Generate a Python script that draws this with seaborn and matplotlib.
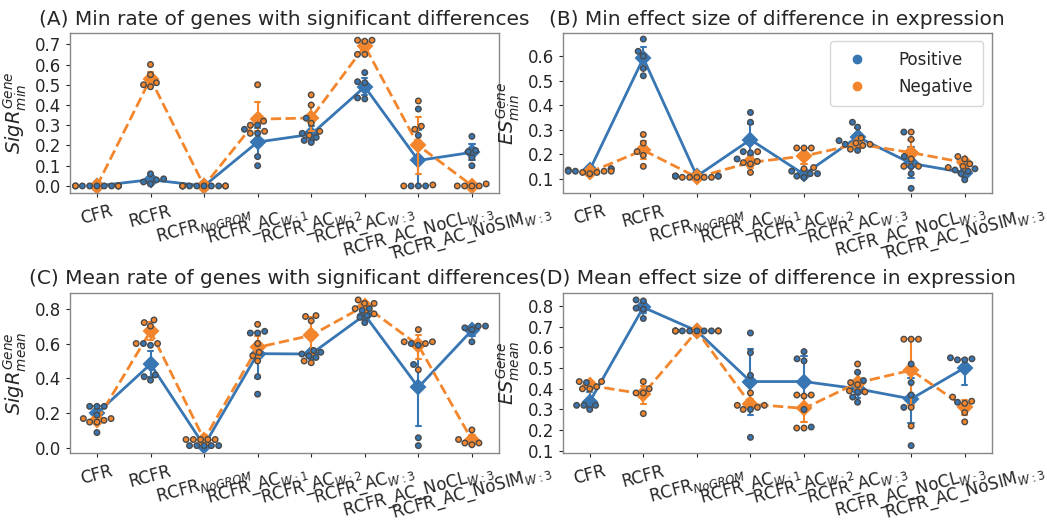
import numpy as np
import pandas as pd
import matplotlib
matplotlib.use("Agg")
import matplotlib.pyplot as plt
import seaborn as sns
from matplotlib.lines import Line2D
from matplotlib.ticker import MultipleLocator

methods = ["CFR", "RCFR", "RCFR$_{NoGROM}$", "RCFR_AC$_{W:1}$", "RCFR_AC$_{W:2}$",
           "RCFR_AC$_{W:3}$", "RCFR_AC_NoCL$_{W:3}$", "RCFR_AC_NoSIM$_{W:3}$"]

# five runs per method and per sign
min_sig_pos = [[0, 0, 0, 0, 0], [0.06, 0.035, 0.03, 0.02, 0.01], [0, 0, 0, 0, 0],
               [0.10, 0.145, 0.26, 0.28, 0.30], [0.215, 0.225, 0.24, 0.26, 0.335],
               [0.43, 0.435, 0.51, 0.515, 0.56], [0, 0, 0, 0.25, 0.38],
               [0.10, 0.14, 0.17, 0.175, 0.245]]
min_sig_neg = [[0, 0, 0, 0, 0], [0.60, 0.55, 0.51, 0.50, 0.49], [0, 0, 0, 0, 0],
               [0.50, 0.32, 0.30, 0.27, 0.26], [0.45, 0.40, 0.31, 0.27, 0.25],
               [0.72, 0.72, 0.715, 0.65, 0.65], [0.42, 0.295, 0.28, 0.0, 0.005],
               [0, 0, 0, 0, 0.01]]

min_es_pos = [[0.14, 0.135, 0.13, 0.13, 0.14], [0.67, 0.62, 0.60, 0.55, 0.52],
              [0.11, 0.11, 0.11, 0.11, 0.11], [0.37, 0.33, 0.21, 0.205, 0.18],
              [0.13, 0.12, 0.11, 0.105, 0.12], [0.33, 0.31, 0.255, 0.24, 0.215],
              [0.29, 0.19, 0.15, 0.12, 0.06], [0.14, 0.135, 0.13, 0.12, 0.095]]
min_es_neg = [[0.13, 0.125, 0.125, 0.12, 0.13], [0.28, 0.245, 0.21, 0.195, 0.15],
              [0.105, 0.105, 0.105, 0.105, 0.105], [0.21, 0.17, 0.165, 0.16, 0.125],
              [0.225, 0.225, 0.225, 0.145, 0.14], [0.265, 0.245, 0.24, 0.235, 0.22],
              [0.29, 0.26, 0.18, 0.15, 0.15], [0.19, 0.18, 0.16, 0.15, 0.145]]

mean_sig_pos = [[0.24, 0.24, 0.24, 0.19, 0.09], [0.60, 0.59, 0.42, 0.41, 0.39],
                [0.015, 0.015, 0.015, 0.015, 0.015], [0.67, 0.66, 0.66, 0.41, 0.31],
                [0.56, 0.55, 0.54, 0.53, 0.52], [0.80, 0.79, 0.76, 0.75, 0.72],
                [0.60, 0.59, 0.48, 0.06, 0.015], [0.70, 0.70, 0.69, 0.68, 0.61]]
mean_sig_neg = [[0.17, 0.17, 0.16, 0.15, 0.15], [0.735, 0.72, 0.70, 0.60, 0.60],
                [0.05, 0.05, 0.05, 0.05, 0.05], [0.71, 0.60, 0.55, 0.53, 0.50],
                [0.76, 0.755, 0.73, 0.50, 0.49], [0.85, 0.83, 0.83, 0.80, 0.77],
                [0.68, 0.61, 0.61, 0.60, 0.45], [0.105, 0.05, 0.03, 0.03, 0.02]]

mean_es_pos = [[0.43, 0.32, 0.32, 0.32, 0.30], [0.83, 0.825, 0.79, 0.785, 0.74],
               [0.68, 0.68, 0.68, 0.68, 0.68], [0.67, 0.575, 0.465, 0.30, 0.165],
               [0.58, 0.545, 0.535, 0.30, 0.215], [0.48, 0.44, 0.385, 0.36, 0.335],
               [0.52, 0.43, 0.37, 0.31, 0.125], [0.55, 0.545, 0.54, 0.54, 0.335]]
mean_es_neg = [[0.435, 0.435, 0.41, 0.40, 0.40], [0.435, 0.40, 0.38, 0.38, 0.28],
               [0.68, 0.68, 0.68, 0.68, 0.68], [0.38, 0.32, 0.32, 0.31, 0.30],
               [0.37, 0.37, 0.365, 0.21, 0.21], [0.52, 0.43, 0.42, 0.39, 0.385],
               [0.64, 0.64, 0.64, 0.31, 0.22], [0.36, 0.34, 0.33, 0.285, 0.24]]

titles = ["(A) Min rate of genes with significant differences",
          "(B) Min effect size of difference in expression",
          "(C) Mean rate of genes with significant differences",
          "(D) Mean effect size of difference in expression"]
ylabels = ["$SigR^{Gene}_{min}$", "$ES^{Gene}_{min}$",
           "$SigR^{Gene}_{mean}$", "$ES^{Gene}_{mean}$"]
ysteps = [0.1, 0.1, 0.2, 0.1]
panels = [(min_sig_pos, min_sig_neg), (min_es_pos, min_es_neg),
          (mean_sig_pos, mean_sig_neg), (mean_es_pos, mean_es_neg)]

palette = {"Positive": "#3776b3", "Negative": "#f3862d"}


def to_frame(pos, neg):
    rows = []
    for label, series in (("Positive", pos), ("Negative", neg)):
        for m, vals in zip(methods, series):
            for v in vals:
                rows.append({"method": m, "value": v, "type": label})
    return pd.DataFrame(rows)


sns.set_style("white")
plt.rcParams["font.family"] = ["DejaVu Sans"]

fig, axes = plt.subplots(2, 2, figsize=(10.47, 5.23), dpi=100)
fig.subplots_adjust(left=0.067, right=0.947, top=0.937, bottom=0.134,
                    wspace=0.15, hspace=0.62)

for ax, (pos, neg), title, ylab, step in zip(axes.flat, panels, titles, ylabels, ysteps):
    df = to_frame(pos, neg)
    sns.swarmplot(data=df, x="method", y="value", hue="type", order=methods,
                  hue_order=["Positive", "Negative"], palette=palette, size=4,
                  linewidth=1, edgecolor="#4a4a4a", legend=False, ax=ax)
    sns.pointplot(data=df, x="method", y="value", hue="type", order=methods,
                  hue_order=["Positive", "Negative"], palette=palette,
                  markers=["D", "D"], linestyles=["-", "--"], dodge=False,
                  errorbar=("ci", 95), seed=0, capsize=0.1,
                  err_kws={"linewidth": 1.5}, markersize=7, linewidth=2,
                  legend=False, ax=ax)
    ax.set_title(title, fontsize=14.5)
    ax.set_xlabel("")
    ax.set_ylabel(ylab, fontsize=14)
    ax.yaxis.set_major_locator(MultipleLocator(step))
    ax.tick_params(axis="both", labelsize=12, length=3, bottom=True, left=True)
    for lbl in ax.get_xticklabels():
        lbl.set_rotation(15)
        lbl.set_ha("center")
    for sp in ax.spines.values():
        sp.set_color("#888888")
        sp.set_linewidth(1)

axes[0, 1].set_ylim(0.04, 0.695)

handles = [Line2D([], [], marker="o", linestyle="", color=palette[k],
                  markersize=6, label=k) for k in ("Positive", "Negative")]
axes[0, 1].legend(handles=handles, loc="upper right", fontsize=12,
                  handletextpad=1.5, borderpad=0.6, labelspacing=0.5)

plt.savefig("out.png", dpi=100)
